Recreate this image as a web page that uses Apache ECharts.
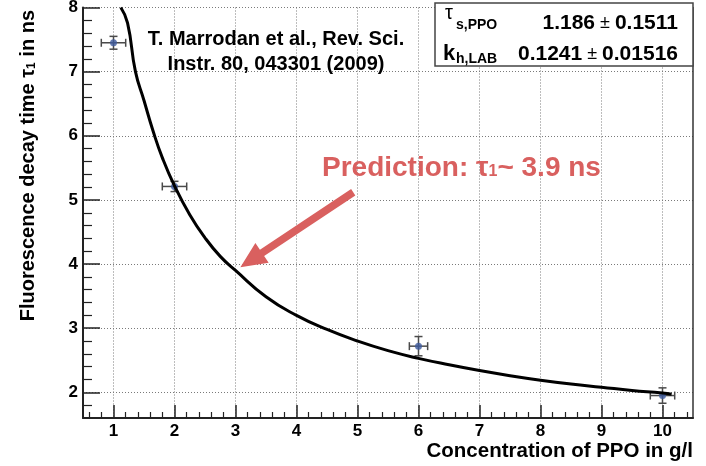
<!DOCTYPE html>
<html>
<head>
<meta charset="utf-8">
<script src="https://cdn.jsdelivr.net/npm/echarts@6/dist/echarts.min.js"></script>
<style>
  html, body { margin: 0; padding: 0; background: #fff; }
  #chart { width: 706px; height: 466px; }
</style>
</head>
<body>
<div id="chart"></div>
<script>
// Measured decay times of LAB + PPO versus PPO concentration
const concentration = [1, 2, 6, 10];          // g/l
const decayTime     = [7.45, 5.21, 2.72, 1.95]; // ns
const concErr       = [0.2, 0.2, 0.15, 0.2];
const decayErr      = [0.1, 0.08, 0.15, 0.12];

// Fitted curve, sampled along the concentration axis
const fitConc = [1.12, 1.23, 1.36, 1.5, 1.65, 1.8, 2.0, 2.25, 2.5, 2.75, 3.0, 3.5, 4.0, 4.5, 5.0, 5.5, 6.0, 6.5, 7.0, 7.5, 8.0, 8.5, 9.0, 9.5, 10.0, 10.15];
const fitTau  = [8.00, 7.76, 7.00, 6.55, 6.07, 5.66, 5.22, 4.77, 4.41, 4.12, 3.90, 3.49, 3.20, 2.98, 2.80, 2.65, 2.53, 2.43, 2.34, 2.26, 2.19, 2.13, 2.08, 2.03, 1.99, 1.97];

// Prediction arrow: from tail to tip, in data units
const arrowFrom = [4.93, 5.12];
const arrowTo   = [3.08, 3.95];

// Axis ticks
const xTickValues = [1, 2, 3, 4, 5, 6, 7, 8, 9, 10];
const yTickValues = [2, 3, 4, 5, 6, 7, 8];
const xMinorValues = [];
for (let i = 3; i <= 52; i++) {
  const v = Math.round(i * 2) / 10;
  if (v % 1 !== 0) xMinorValues.push(v);
}
const yMinorValues = [];
for (let i = 9; i <= 39; i++) {
  const v = Math.round(i * 2) / 10;
  if (v % 1 !== 0) yMinorValues.push(v);
}

const FONT = '"Liberation Sans", Arial, Helvetica, sans-serif';
const RED = '#d9605f';
const AXIS = '#222';
const GRIDLINE = { show: true, lineStyle: { color: '#7a7a7a', type: [1, 2], width: 1 } };

const points = concentration.map((c, i) => [c, decayTime[i]]);
const errRows = concentration.map((c, i) => [c, decayTime[i], concErr[i], decayErr[i]]);
const fitLine = fitConc.map((c, i) => [c, fitTau[i]]);

function renderErrorBar(params, api) {
  const x = api.value(0), y = api.value(1), ex = api.value(2), ey = api.value(3);
  const l = api.coord([x - ex, y]), r = api.coord([x + ex, y]);
  const t = api.coord([x, y + ey]), b = api.coord([x, y - ey]);
  const cap = 4;
  const style = { stroke: '#4a4a4a', lineWidth: 1.5 };
  const seg = (x1, y1, x2, y2) => ({ type: 'line', shape: { x1, y1, x2, y2 }, style });
  return {
    type: 'group',
    children: [
      seg(l[0], l[1], r[0], r[1]),
      seg(t[0], t[1], b[0], b[1]),
      seg(l[0], l[1] - cap, l[0], l[1] + cap),
      seg(r[0], r[1] - cap, r[0], r[1] + cap),
      seg(t[0] - cap, t[1], t[0] + cap, t[1]),
      seg(b[0] - cap, b[1], b[0] + cap, b[1])
    ]
  };
}

function renderArrow(params, api) {
  const p0 = api.coord([api.value(0), api.value(1)]);
  const p1 = api.coord([api.value(2), api.value(3)]);
  const dx = p1[0] - p0[0], dy = p1[1] - p0[1];
  const len = Math.hypot(dx, dy);
  const ux = dx / len, uy = dy / len, nx = -uy, ny = ux;
  const sw = 3.8, hw = 12, hl = 26;
  const bx = p1[0] - ux * hl, by = p1[1] - uy * hl;
  return {
    type: 'polygon',
    shape: {
      points: [
        [p0[0] + nx * sw, p0[1] + ny * sw],
        [bx + nx * sw, by + ny * sw],
        [bx + nx * hw, by + ny * hw],
        [p1[0], p1[1]],
        [bx - nx * hw, by - ny * hw],
        [bx - nx * sw, by - ny * sw],
        [p0[0] - nx * sw, p0[1] - ny * sw]
      ]
    },
    style: { fill: RED }
  };
}

const intOnly = v => (Math.abs(v - Math.round(v)) < 1e-6 ? String(Math.round(v)) : '');

const chart = echarts.init(document.getElementById('chart'), null, { renderer: 'canvas' });
chart.setOption({
  animation: false,
  backgroundColor: '#fff',
  textStyle: { fontFamily: FONT },
  grid: { left: 83, right: 13, top: 7.5, bottom: 48, containLabel: false, outerBoundsMode: 'none' },
  xAxis: [
    {
      type: 'value', min: 0.5, max: 10.5, splitNumber: 10,
      axisLine: { show: true, lineStyle: { color: AXIS, width: 2 } },
      axisTick: { show: true, inside: true, length: 13, customValues: xTickValues, lineStyle: { color: AXIS, width: 1.5 } },
      axisLabel: { show: true, customValues: xTickValues, formatter: intOnly, margin: 5, color: '#000', fontSize: 17, fontWeight: 'bold', fontFamily: 'Liberation Sans' },
      splitLine: GRIDLINE
    },
    {
      type: 'value', min: 0.5, max: 10.5, position: 'bottom', offset: 0,
      axisLine: { show: false },
      axisTick: { show: true, inside: true, length: 6, customValues: xMinorValues, lineStyle: { color: AXIS, width: 1.2 } },
      axisLabel: { show: false },
      splitLine: { show: false }
    }
  ],
  yAxis: [
    {
      type: 'value', min: 1.6, max: 8, splitNumber: 6, position: 'left',
      axisLine: { show: true, lineStyle: { color: AXIS, width: 2 } },
      axisTick: { show: true, inside: true, length: 17, customValues: yTickValues, lineStyle: { color: AXIS, width: 1.5 } },
      axisLabel: { show: true, customValues: yTickValues, formatter: intOnly, margin: 5, color: '#000', fontSize: 17, fontWeight: 'bold', fontFamily: 'Liberation Sans' },
      splitLine: GRIDLINE
    },
    {
      type: 'value', min: 1.6, max: 8, position: 'left', offset: 0,
      axisLine: { show: false },
      axisTick: { show: true, inside: true, length: 9, customValues: yMinorValues, lineStyle: { color: AXIS, width: 1.2 } },
      axisLabel: { show: false },
      splitLine: { show: false }
    },
    {
      type: 'value', min: 1.6, max: 8, position: 'right', offset: 0,
      axisLine: { show: true, lineStyle: { color: '#333', width: 1.5 } },
      axisTick: { show: false },
      axisLabel: { show: false },
      splitLine: { show: false }
    }
  ],
  series: [
    {
      type: 'custom', name: 'errors', renderItem: renderErrorBar, data: errRows,
      xAxisIndex: 0, yAxisIndex: 0, z: 3, silent: true
    },
    {
      type: 'scatter', name: 'data', data: points, xAxisIndex: 0, yAxisIndex: 0,
      symbol: 'circle', symbolSize: 7, itemStyle: { color: '#3d5a9e' }, z: 4, silent: true
    },
    {
      type: 'line', name: 'fit', data: fitLine, xAxisIndex: 0, yAxisIndex: 0,
      smooth: 0.5, showSymbol: false, symbol: 'none', clip: true,
      lineStyle: { color: '#000', width: 3 }, z: 5, silent: true
    },
    {
      type: 'custom', name: 'arrow', renderItem: renderArrow,
      data: [[arrowFrom[0], arrowFrom[1], arrowTo[0], arrowTo[1]]],
      xAxisIndex: 0, yAxisIndex: 0, z: 6, silent: true
    }
  ],
  graphic: [
    // reference note
    {
      type: 'text', z: 100, x: 276, y: 39.5,
      style: { text: 'T. Marrodan et al., Rev. Sci.', font: 'bold 20px ' + FONT, fill: '#000', align: 'center', verticalAlign: 'middle' }
    },
    {
      type: 'text', z: 100, x: 276, y: 64.5,
      style: { text: 'Instr. 80, 043301 (2009)', font: 'bold 20px ' + FONT, fill: '#000', align: 'center', verticalAlign: 'middle' }
    },
    // fit parameter box
    {
      type: 'rect', z: 100, shape: { x: 435, y: 3, width: 258, height: 63 },
      style: { fill: '#fff', stroke: '#444', lineWidth: 1.5 }
    },
    {
      type: 'text', z: 101, x: 445, y: 13,
      style: { text: 'τ', font: '20px ' + FONT, fill: '#000', align: 'left', verticalAlign: 'middle' }
    },
    {
      type: 'text', z: 101, x: 456, y: 25,
      style: { text: 's,PPO', font: 'bold 14px ' + FONT, fill: '#000', align: 'left', verticalAlign: 'middle' }
    },
    {
      type: 'text', z: 101, x: 678, y: 23,
      style: {
        text: '{v|1.186}{pm| ± }{v|0.1511}', align: 'right', verticalAlign: 'middle',
        rich: {
          v: { fontFamily: FONT, fontSize: 21, fontWeight: 'bold', fill: '#000' },
          pm: { fontFamily: FONT, fontSize: 18, fill: '#000' }
        }
      }
    },
    {
      type: 'text', z: 101, x: 443, y: 54,
      style: { text: 'k', font: 'bold 22px ' + FONT, fill: '#000', align: 'left', verticalAlign: 'middle' }
    },
    {
      type: 'text', z: 101, x: 456, y: 59,
      style: { text: 'h,LAB', font: 'bold 14px ' + FONT, fill: '#000', align: 'left', verticalAlign: 'middle' }
    },
    {
      type: 'text', z: 101, x: 678, y: 54,
      style: {
        text: '{v|0.1241}{pm| ± }{v|0.01516}', align: 'right', verticalAlign: 'middle',
        rich: {
          v: { fontFamily: FONT, fontSize: 21, fontWeight: 'bold', fill: '#000' },
          pm: { fontFamily: FONT, fontSize: 18, fill: '#000' }
        }
      }
    },
    // prediction label
    {
      type: 'text', z: 100, x: 322, y: 168,
      style: {
        text: '{p|Prediction: τ}{s|1}{p|~ 3.9 ns}', align: 'left', verticalAlign: 'middle',
        rich: {
          p: { fontFamily: FONT, fontSize: 28, fontWeight: 'bold', fill: RED },
          s: { fontFamily: FONT, fontSize: 16, fontWeight: 'bold', fill: RED, padding: [8, 0, 0, 0] }
        }
      }
    },
    // axis titles
    {
      type: 'text', z: 100, x: 28, y: 10, rotation: Math.PI / 2,
      style: {
        text: '{a|Fluorescence decay time τ}{s|1}{a| in ns}', align: 'right', verticalAlign: 'middle',
        rich: {
          a: { fontFamily: FONT, fontSize: 20, fontWeight: 'bold', fill: '#000' },
          s: { fontFamily: FONT, fontSize: 12, fontWeight: 'bold', fill: '#000', padding: [8, 0, 0, 0] }
        }
      }
    },
    {
      type: 'text', z: 100, x: 693, y: 451,
      style: { text: 'Concentration of PPO in g/l', font: 'bold 20.5px ' + FONT, fill: '#000', align: 'right', verticalAlign: 'middle' }
    }
  ]
});
</script>
</body>
</html>
